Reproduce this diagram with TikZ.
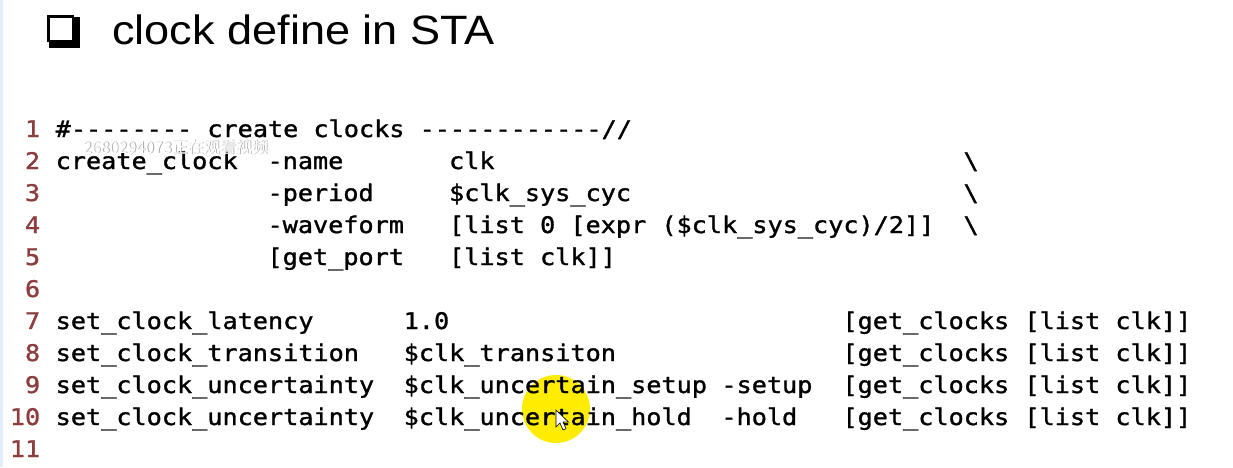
\documentclass[tikz,border=0pt]{standalone}
\usepackage{fontspec}
\setmainfont{Liberation Sans}
\setmonofont[FakeStretch=1.1,FakeBold=1.3]{DejaVu Sans Mono}
\newfontfamily\titlefont[FakeStretch=1.1]{Liberation Sans}
\newfontfamily\cjkfont{Noto Sans CJK SC}
\newcommand\codefont{\fontsize{22.9}{26}\selectfont\ttfamily}

\definecolor{linenum}{RGB}{140,62,62}
\definecolor{hiyellow}{RGB}{255,236,0}
\definecolor{edgeblue}{RGB}{226,236,250}

\tikzset{
  code/.style={anchor=base west, inner sep=0pt, font=\codefont},
  lnum/.style={anchor=base east, inner sep=0pt, font=\codefont, text=linenum},
}

\begin{document}
\begin{tikzpicture}[x=1pt,y=-1pt]
    % Define the grid of the listing
    \def\cw{15.13}  % column width
    \def\xo{55.5}   % column 0
    \def\ya{137}    % baseline of line 1
    \def\dy{32}     % line pitch

    \useasboundingbox (0,0) rectangle (1233,467);
    \fill[white] (0,0) rectangle (1233,467);
    \fill[edgeblue] (0,0) rectangle (3,467);

    % Title with the shadowed box
    \fill[black] (46.7,15) rectangle (74,42);
    \fill[black] (49,17) rectangle (80,48);
    \fill[white] (49.5,17.5) rectangle (71.5,40);
    \node[anchor=base west, inner sep=0pt, font=\titlefont\fontsize{41}{48}\selectfont] (title) at (112,44.3) {clock define in STA};

    % Cursor highlight
    \fill[hiyellow] (556,409) circle (34pt);

    % Line numbers
    \foreach \i in {1,...,11}
        \node[lnum] (n\i) at ({\xo-\cw},{\ya+(\i-1)*\dy}) {\i};

    % create clocks
    \node[code] (head1) at (\xo,\ya) {\#-------- create clocks ------------//};
    \node[code] (cmd2) at (\xo,{\ya+\dy}) {create\_clock};
    \node[code] (opt2) at ({\xo+14*\cw},{\ya+\dy}) {-name};
    \node[code] (val2) at ({\xo+26*\cw},{\ya+\dy}) {clk};
    \node[code] (cont2) at ({\xo+60*\cw},{\ya+\dy}) {\textbackslash};
    \node[code] (opt3) at ({\xo+14*\cw},{\ya+2*\dy}) {-period};
    \node[code] (val3) at ({\xo+26*\cw},{\ya+2*\dy}) {\$clk\_sys\_cyc};
    \node[code] (cont3) at ({\xo+60*\cw},{\ya+2*\dy}) {\textbackslash};
    \node[code] (opt4) at ({\xo+14*\cw},{\ya+3*\dy}) {-waveform};
    \node[code] (val4) at ({\xo+26*\cw},{\ya+3*\dy}) {[list 0 [expr (\$clk\_sys\_cyc)/2]]};
    \node[code] (cont4) at ({\xo+60*\cw},{\ya+3*\dy}) {\textbackslash};
    \node[code] (opt5) at ({\xo+14*\cw},{\ya+4*\dy}) {[get\_port};
    \node[code] (val5) at ({\xo+26*\cw},{\ya+4*\dy}) {[list clk]]};

    % clock latency, transition, uncertainty
    \node[code] (cmd7) at (\xo,{\ya+6*\dy}) {set\_clock\_latency};
    \node[code] (val7) at ({\xo+23*\cw},{\ya+6*\dy}) {1.0};
    \node[code] (clk7) at ({\xo+52*\cw},{\ya+6*\dy}) {[get\_clocks [list clk]]};
    \node[code] (cmd8) at (\xo,{\ya+7*\dy}) {set\_clock\_transition};
    \node[code] (val8) at ({\xo+23*\cw},{\ya+7*\dy}) {\$clk\_transiton};
    \node[code] (clk8) at ({\xo+52*\cw},{\ya+7*\dy}) {[get\_clocks [list clk]]};
    \node[code] (cmd9) at (\xo,{\ya+8*\dy}) {set\_clock\_uncertainty};
    \node[code] (val9) at ({\xo+23*\cw},{\ya+8*\dy}) {\$clk\_uncertain\_setup};
    \node[code] (opt9) at ({\xo+44*\cw},{\ya+8*\dy}) {-setup};
    \node[code] (clk9) at ({\xo+52*\cw},{\ya+8*\dy}) {[get\_clocks [list clk]]};
    \node[code] (cmd10) at (\xo,{\ya+9*\dy}) {set\_clock\_uncertainty};
    \node[code] (val10) at ({\xo+23*\cw},{\ya+9*\dy}) {\$clk\_uncertain\_hold};
    \node[code] (opt10) at ({\xo+44*\cw},{\ya+9*\dy}) {-hold};
    \node[code] (clk10) at ({\xo+52*\cw},{\ya+9*\dy}) {[get\_clocks [list clk]]};

    % Viewer watermark
    \node[anchor=west, inner sep=0pt, font=\cjkfont\fontsize{16}{18}\selectfont, text=gray!70] (markshadow) at (83.9,147.9) {2680294073正在观看视频};
    \node[anchor=west, inner sep=0pt, font=\cjkfont\fontsize{16}{18}\selectfont, text=white] (mark) at (83,147) {2680294073正在观看视频};

    % Mouse pointer
    \filldraw[fill=white, draw=black, line width=0.6pt] (556,410) -- (556,427) -- (560,423) -- (563,430) -- (566,428.6) -- (563,422) -- (568.5,422) -- cycle;
\end{tikzpicture}
\end{document}
